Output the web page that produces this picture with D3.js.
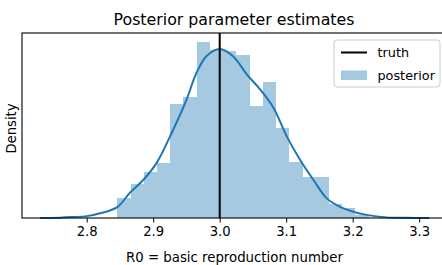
<!DOCTYPE html>
<html>
<head>
<meta charset="utf-8">
<script src="https://cdn.jsdelivr.net/npm/d3@7"></script>
<style>
  body { margin: 0; background: #fff; }
  text { font-family: "DejaVu Sans", sans-serif; fill: #000; }
</style>
</head>
<body>
<svg width="442" height="265"></svg>
<script>
// histogram bins (left edge, density)
var binStart = 2.846;
var binWidth = 0.0199;
var histDensity = [0.63, 1.10, 1.46, 1.76, 3.66, 3.87, 5.65, 5.40, 5.35, 5.24,
                   3.60, 4.36, 2.88, 1.81, 1.31, 1.31, 0.44, 0.31, 0.11];

// kde curve
var kdeX = [2.730, 2.760, 2.779, 2.800, 2.820, 2.846, 2.865, 2.885, 2.905, 2.930,
            2.950, 2.965, 2.980, 3.000, 3.020, 3.041, 3.061, 3.081, 3.101, 3.121,
            3.141, 3.161, 3.181, 3.201, 3.221, 3.251, 3.280, 3.315];
var kdeY = [0.00, 0.01, 0.03, 0.06, 0.15, 0.35, 0.81, 1.22, 1.76, 2.83,
            3.79, 4.65, 5.19, 5.42, 5.19, 4.60, 4.12, 3.53, 2.61, 1.86,
            1.22, 0.63, 0.36, 0.20, 0.10, 0.02, 0.005, 0.0];

var truth = 3.0;
var xTicks = [2.8, 2.9, 3.0, 3.1, 3.2, 3.3];
var legendLabels = ["truth", "posterior"];

var blue = "#1f77b4";
var svg = d3.select("svg");
var pLeft = 22, pRight = 446, pTop = 33, pBottom = 218;

var x = d3.scaleLinear().domain([2.7027, 3.3403]).range([pLeft, pRight]);
var yMax = d3.max(histDensity) * 1.05;
var y = d3.scaleLinear().domain([0, yMax]).range([pBottom, pTop]);

// bars
svg.append("g")
  .attr("shape-rendering", "crispEdges")
  .selectAll("rect")
  .data(histDensity)
  .enter().append("rect")
    .attr("x", (d, i) => x(binStart + i * binWidth))
    .attr("width", (d, i) => x(binStart + (i + 1) * binWidth) - x(binStart + i * binWidth))
    .attr("y", d => y(d))
    .attr("height", d => y(0) - y(d))
    .attr("fill", blue)
    .attr("fill-opacity", 0.4)

var line = d3.line()
  .x(d => x(d[0]))
  .y(d => y(d[1]))
  .curve(d3.curveCatmullRom)

svg.append("path")
  .datum(kdeX.map((v, i) => [v, kdeY[i]]))
  .attr("d", line)
  .attr("fill", "none")
  .attr("stroke", blue)
  .attr("stroke-width", 2)

svg.append("line")
  .attr("x1", x(truth)).attr("x2", x(truth))
  .attr("y1", y(yMax)).attr("y2", y(0))
  .attr("stroke", "#000")
  .attr("stroke-width", 2)

// x axis
var xAxis = d3.axisBottom(x).tickValues(xTicks).tickFormat(d3.format(".1f")).tickSize(4.5).tickPadding(4)
var gx = svg.append("g").attr("transform", "translate(0," + pBottom + ")").call(xAxis)
gx.select(".domain").remove()
gx.selectAll("line").attr("stroke", "#000").attr("stroke-width", 1)
gx.selectAll("text").attr("font-size", 13.2).attr("font-family", "DejaVu Sans").attr("fill", "#000")

// spines
svg.append("rect")
  .attr("x", pLeft).attr("y", pTop)
  .attr("width", pRight - pLeft).attr("height", pBottom - pTop)
  .attr("fill", "none").attr("stroke", "#000").attr("stroke-width", 1.1)

svg.append("text")
  .attr("x", (pLeft + pRight) / 2).attr("y", 25)
  .attr("text-anchor", "middle").attr("font-size", 15.8)
  .text("Posterior parameter estimates")

svg.append("text")
  .attr("x", (pLeft + pRight) / 2 + 0.5).attr("y", 262)
  .attr("text-anchor", "middle").attr("font-size", 13.3)
  .text("R0 = basic reproduction number")

svg.append("text")
  .attr("transform", "translate(15.5," + ((pTop + pBottom) / 2 + 3) + ") rotate(-90)")
  .attr("text-anchor", "middle").attr("font-size", 13.2)
  .text("Density")

// legend
var lg = svg.append("g").attr("transform", "translate(334,40)")
lg.append("rect")
  .attr("width", 106).attr("height", 47).attr("rx", 3)
  .attr("fill", "#fff").attr("fill-opacity", 0.8)
  .attr("stroke", "#ccc").attr("stroke-width", 1)
lg.append("line")
  .attr("x1", 7).attr("x2", 33).attr("y1", 12.5).attr("y2", 12.5)
  .attr("stroke", "#000").attr("stroke-width", 2)
lg.append("rect")
  .attr("x", 7).attr("y", 30.5).attr("width", 26).attr("height", 9.5)
  .attr("fill", blue).attr("fill-opacity", 0.4)
lg.selectAll("text.lbl")
  .data(legendLabels)
  .enter().append("text")
    .attr("class", "lbl")
    .attr("x", 43.5)
    .attr("y", (d, i) => 17 + i * 22.5)
    .attr("font-size", 12.8)
    .text(d => d)
</script>
</body>
</html>
